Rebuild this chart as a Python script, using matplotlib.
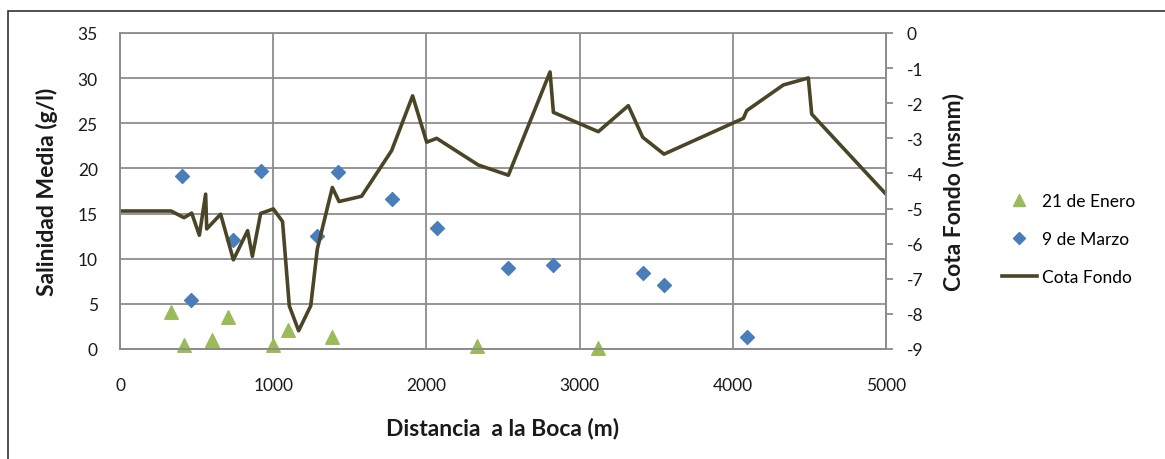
import matplotlib.pyplot as plt
from matplotlib.patches import Rectangle
from matplotlib.lines import Line2D

plt.rcParams['font.family'] = ['Lato', 'DejaVu Sans']
plt.rcParams['axes.unicode_minus'] = False

# Cota Fondo (msnm) along the river
dist_fondo = [0, 333, 418, 468, 518, 559, 566, 657, 740, 833, 864, 918, 1001, 1061,
              1105, 1166, 1245, 1288, 1386, 1430, 1577, 1773, 1910, 2002, 2067, 2339,
              2535, 2807, 2829, 3122, 3318, 3412, 3551, 4069, 4091, 4330, 4493, 4515, 5000]
cota_fondo = [-5.07, -5.07, -5.26, -5.13, -5.76, -4.59, -5.58, -5.16, -6.46, -5.63, -6.36,
              -5.14, -5.01, -5.37, -7.77, -8.48, -7.77, -6.15, -4.40, -4.80, -4.65, -3.35,
              -1.79, -3.11, -3.00, -3.76, -4.05, -1.11, -2.26, -2.81, -2.07, -2.97, -3.45,
              -2.43, -2.21, -1.48, -1.28, -2.31, -4.59]

# 9 de Marzo
dist_marzo = [405, 463, 740, 920, 1288, 1423, 1773, 2067, 2535, 2829, 3412, 3551, 4091]
sal_marzo = [19.2, 5.4, 12.1, 19.7, 12.5, 19.6, 16.6, 13.4, 9.0, 9.3, 8.4, 7.1, 1.36]

# 21 de Enero
dist_enero = [333, 418, 598, 703, 997, 1099, 1386, 2328, 3122]
sal_enero = [4.06, 0.44, 1.03, 3.5, 0.44, 2.1, 1.3, 0.37, 0.08]

c_line = '#4a4527'
c_blue = '#4a7ebb'
c_green = '#9bbb59'
c_grid = '#8c8c8c'
c_txt = '#1a1a1a'

fig = plt.figure(figsize=(11.65, 4.6), dpi=100)
ax1 = fig.add_axes([120/1165, 1-350/460, (886-120)/1165, (350-34)/460])
ax2 = ax1.twinx()

ax1.set_xlim(0, 5000)
ax1.set_ylim(0, 35)
ax2.set_ylim(-9, 0)
ax1.set_xticks(range(0, 5001, 1000))
ax1.set_yticks(range(0, 36, 5))
ax2.set_yticks(range(-9, 1, 1))

ax1.grid(True, color=c_grid, lw=1.3)
ax1.set_axisbelow(True)
for ax in (ax1, ax2):
    for s in ax.spines.values():
        s.set_color(c_grid)
        s.set_linewidth(1.3)
ax1.spines['top'].set_visible(False)

ax1.tick_params(axis='both', length=0, labelsize=12.5, labelcolor=c_txt)
ax1.tick_params(axis='y', pad=16)
ax1.tick_params(axis='x', pad=20)
ax2.tick_params(axis='y', length=5, width=1.3, color=c_grid, labelsize=12.5,
                labelcolor=c_txt, pad=10)

ax1.scatter(dist_enero, sal_enero, marker='^', s=95, color=c_green, zorder=3, clip_on=False)
ax1.scatter(dist_marzo, sal_marzo, marker='D', s=50, color=c_blue, zorder=3, clip_on=False)
ax2.plot(dist_fondo, cota_fondo, color=c_line, lw=2.6)

ax1.set_ylabel('Salinidad Media (g/l)', fontsize=16.5, fontweight='bold', color=c_txt, labelpad=14)
ax2.set_ylabel('Cota Fondo (msnm)', fontsize=16.5, fontweight='bold', color=c_txt, labelpad=14)
ax1.set_xlabel('Distancia  a la Boca (m)', fontsize=16.5, fontweight='bold', color=c_txt, labelpad=17)

handles = [
    Line2D([], [], marker='^', ls='none', color=c_green, markersize=9),
    Line2D([], [], marker='D', ls='none', color=c_blue, markersize=6.5),
    Line2D([], [], color=c_line, lw=2.6),
]
labels = ['21 de Enero', '9 de Marzo', 'Cota Fondo']
fig.legend(handles, labels, loc='center left', bbox_to_anchor=(995/1165, 1-240/460),
           frameon=False, fontsize=12.5, handlelength=2.0, handletextpad=0.3,
           labelspacing=1.25, borderaxespad=0)

top = 1 - 12/460
fig.patches.append(Rectangle((8/1165, -0.2), 1.2, top + 0.2, transform=fig.transFigure,
                             fill=False, edgecolor='#333333', lw=1.2))

fig.savefig('out.png', dpi=100)
